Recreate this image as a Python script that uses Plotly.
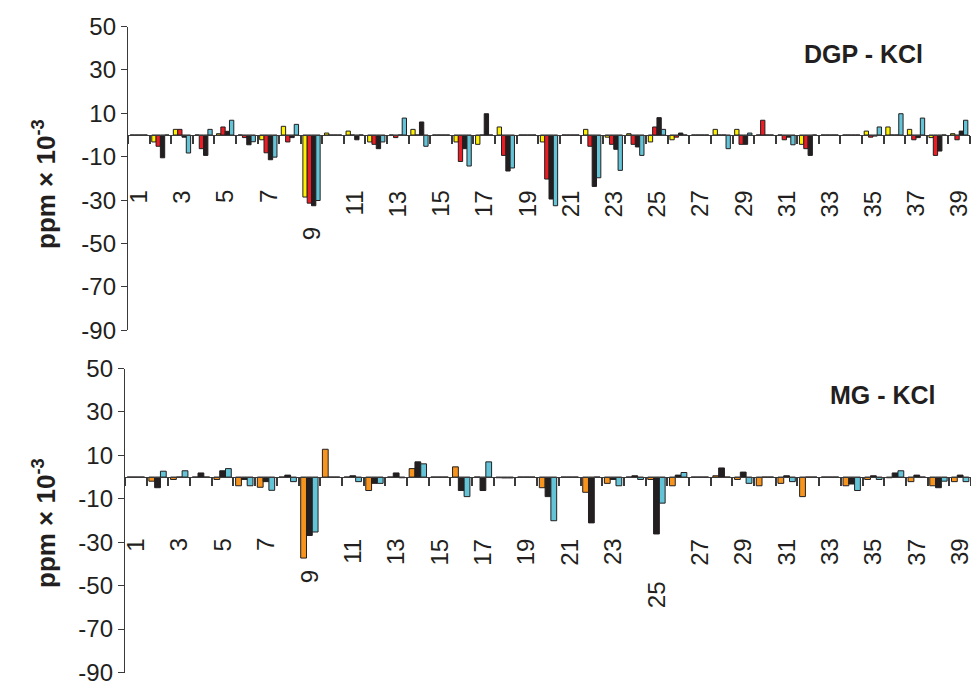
import plotly.graph_objects as go

# Residue numbers along the category axis
residues = list(range(1, 40))

# DGP - KCl chemical shift differences (ppm x 10^-3)
dgp_yellow = [0, -3.2, 2.6, 0, 0.6, 0, -2.2, 4, -28.6, 0.9,
              1.8, -3.2, 0, 2.6, 0, -3.2, -4.3, 3.7, 0, -3.2,
              0, 2.6, -1, 0.6, -3.2, -2.2, 0, 2.6, 2.6, 0,
              0, -4.3, 0, 0, 1.8, 3.7, 2.6, -1.2, 0.6]
dgp_red = [0, -5.2, 2.6, -6.3, 3.7, -1.2, -8.2, -3.2, -31.4, 0,
           0, -4.3, -1.2, 0, 0, -12.2, 0, -9.4, 0, -20.3,
           0, -5.2, -4.3, -4.3, 3.7, -1, 0, 0, -4.3, 6.8,
           -2.2, -6.3, 0, 0, -1, 0, -2.2, -9.4, -2.2]
dgp_black = [0, -10.5, -1, -9.4, 1.7, -4.5, -11.4, -1.2, -32.6, 0,
             -2.2, -6.3, 0, 6, 0, -6.3, 9.8, -16.6, 0, -29.5,
             0, -23.7, -6.6, -5.5, 8, 0.9, 0, 0, -4.3, 0,
             -1, -9.4, 0, 0, -0.5, 0, -1.2, -7.4, 1.8]
dgp_cyan = [0, 0, -8.3, 2.6, 6.8, -3.1, -10.2, 4.9, -30.2, 0,
            0, -3.2, 7.8, -5.2, 0, -14.3, 0, -15.2, 0, -32.6,
            0, -19.7, -16.3, -9.4, 2.6, 0, 0, -6.3, 0.9, 0,
            -4.5, 0, 0, 0, 3.7, 9.8, 7.8, 0, 6.8]

# MG - KCl chemical shift differences (ppm x 10^-3)
mg_orange = [0, -1.9, -1.1, 0, -1.1, -4, -4.7, 0, -37.3, 12.8,
             0, -6.2, 0, 3.9, 0, 4.7, 0, -0.3, 0, -4.9,
             0, -7, -2.9, 0, -1.1, -4, 0, 0.6, -1.1, -4,
             -2.9, -9, 0, -4, -1.1, -0.3, -2.1, -4, -2.1]
mg_black = [0, -4.9, 0, 1.9, 2.9, -1.1, -2.1, 0.9, -26.9, 0,
            0.6, -2.9, 1.9, 7, 0, -6.2, -6.2, -0.4, 0, -9,
            0, -21.1, -1.1, 0.6, -26.2, 0.9, 0, 4.2, 2.3, 0,
            0.6, 0, 0, -3.2, 0.6, 1.9, 0.9, -4.9, 0.9]
mg_cyan = [0, 2.7, 2.9, 0, 3.9, -4, -6.1, -2.1, -25.3, 0,
           -2.1, -2.9, -0.3, 6.1, 0, -9, 7, -0.4, 0, -20.1,
           0, 0, -4, -1.1, -12, 2.1, 0, 0, -2.9, 0,
           -2.1, 0, 0, -6.2, -1.1, 2.9, 0, -1.9, -2.1]

# Category labels (odd residues, plus 25 lowered in the lower panel)
top_labels = [str(r) for r in range(1, 40, 2)]
top_label_y = [-42 if t == "9" else -25 for t in top_labels]
bot_labels = [str(r) for r in range(1, 40, 2) if r != 25] + ["25"]
bot_label_y = [-42.5 if t == "9" else (-47.5 if t == "25" else -27.8)
               for t in bot_labels]

Y_TICKS = [50, 30, 10, -10, -30, -50, -70, -90]
Y_RANGE = [-90, 50]

W, H = 971, 682
INK = "#231F20"
AXIS = "#3A3A3A"
FONT = "Arial, 'Liberation Sans', Helvetica, sans-serif"


def py(px):
    """paper fraction from a pixel row"""
    return (H - px) / H


def px_x(px):
    return px / W


top_dom = [py(330.3), py(26.5)]
bot_dom = [py(672.5), py(368.5)]
frac0 = (0 - Y_RANGE[0]) / (Y_RANGE[1] - Y_RANGE[0])
top_zero = top_dom[0] + frac0 * (top_dom[1] - top_dom[0])
bot_zero = bot_dom[0] + frac0 * (bot_dom[1] - bot_dom[0])

fig = go.Figure()

bar_line = dict(color=INK, width=1)
for vals, col in [(dgp_yellow, "#FFF200"), (dgp_red, "#ED1C24"),
                  (dgp_black, "#231F20"), (dgp_cyan, "#63C4D7")]:
    fig.add_trace(go.Bar(x=residues, y=vals, xaxis="x", yaxis="y",
                         marker=dict(color=col, line=bar_line),
                         showlegend=False))
for vals, col in [(mg_orange, "#F7941D"), (mg_black, "#231F20"),
                  (mg_cyan, "#63C4D7")]:
    fig.add_trace(go.Bar(x=residues, y=vals, xaxis="x2", yaxis="y2",
                         marker=dict(color=col, line=bar_line),
                         showlegend=False))

xcommon = dict(range=[0.5, 39.5], tick0=0.5, dtick=1, ticks="outside",
               ticklen=8, tickwidth=1.5, tickcolor=AXIS,
               showticklabels=False, showgrid=False, zeroline=False,
               fixedrange=True, automargin=False)
ycommon = dict(range=Y_RANGE, tickvals=Y_TICKS,
               ticktext=[str(v) for v in Y_TICKS],
               ticks="outside", ticklen=6, tickwidth=1.3, tickcolor=AXIS,
               showline=True, linecolor=AXIS, linewidth=1.3,
               showgrid=False, zeroline=False, automargin=False,
               ticklabeloverflow="allow",
               tickfont=dict(family=FONT, size=24, color=INK))

top_xdom = [px_x(128), px_x(970)]
bot_xdom = [px_x(125), 1.0]

fig.update_layout(
    template="none",
    width=W, height=H,
    margin=dict(l=0, r=0, t=0, b=0, pad=0, autoexpand=False),
    paper_bgcolor="white", plot_bgcolor="rgba(0,0,0,0)",
    barmode="group", bargap=0.2, bargroupgap=0,
    font=dict(family=FONT, color=INK),
    xaxis=dict(domain=top_xdom, anchor="free", position=top_zero,
               showline=True, linecolor=AXIS, linewidth=1.3, **xcommon),
    xaxis3=dict(overlaying="x", side="top", anchor="free",
                position=top_zero, showline=False, **xcommon),
    yaxis=dict(domain=top_dom, anchor="x", **ycommon),
    xaxis2=dict(domain=bot_xdom, anchor="free", position=bot_zero,
                showline=True, linecolor=AXIS, linewidth=1.3, **xcommon),
    xaxis4=dict(overlaying="x2", side="top", anchor="free",
                position=bot_zero, showline=False, **xcommon),
    yaxis2=dict(domain=bot_dom, anchor="x2", **ycommon),
)

ann = []
lab_font = dict(family=FONT, size=24, color=INK)
for t, yv in zip(top_labels, top_label_y):
    ann.append(dict(x=int(t), y=yv, xref="x", yref="y", text=t,
                    textangle=-90, xanchor="center", yanchor="top",
                    borderpad=0, showarrow=False, font=lab_font))
for t, yv in zip(bot_labels, bot_label_y):
    ann.append(dict(x=int(t), y=yv, xref="x2", yref="y2", text=t,
                    textangle=-90, xanchor="center", yanchor="top",
                    borderpad=0, showarrow=False, font=lab_font))

title_font = dict(family=FONT, size=25, color=INK)
ann.append(dict(x=px_x(863), y=py(54), xref="paper", yref="paper",
                text="<b>DGP - KCl</b>", showarrow=False,
                xanchor="center", yanchor="middle", font=title_font))
ann.append(dict(x=px_x(883), y=py(395), xref="paper", yref="paper",
                text="<b>MG - KCl</b>", showarrow=False,
                xanchor="center", yanchor="middle", font=title_font))

ytitle = "<b>ppm × 10<sup>-3</sup></b>"
for cy in (184, 523):
    ann.append(dict(x=px_x(44), y=py(cy), xref="paper", yref="paper",
                    text=ytitle, textangle=-90, showarrow=False,
                    xanchor="center", yanchor="middle",
                    font=dict(family=FONT, size=26, color=INK)))

fig.update_layout(annotations=ann)

fig.write_html("out.html")
